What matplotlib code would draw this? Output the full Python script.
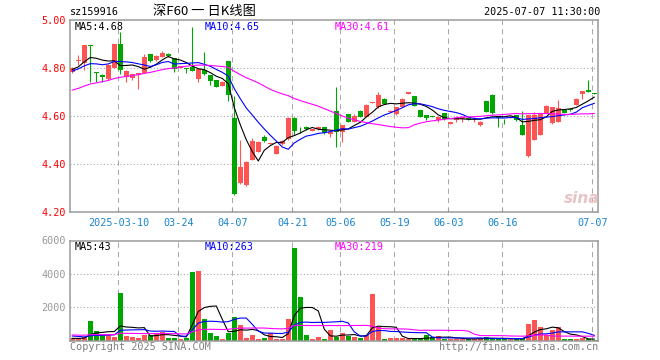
import matplotlib
matplotlib.use('Agg')
import matplotlib.pyplot as plt
import numpy as np
import pandas as pd

W, H, DPI = 660, 360, 100

# ---- data ----
opens = [4.785, 4.828, 4.822, 4.896, 4.783, 4.771, 4.754, 4.800, 4.900, 4.764,
         4.757, 4.771, 4.780, 4.858, 4.833, 4.847, 4.858, 4.840, 4.800, 4.799,
         4.805, 4.753, 4.792, 4.771, 4.750, 4.726, 4.829, 4.593, 4.322, 4.312,
         4.417, 4.450, 4.511, 4.486, 4.442, 4.483, 4.503, 4.593, 4.542, 4.556,
         4.538, 4.544, 4.553, 4.525, 4.622, 4.535, 4.608, 4.576, 4.622, 4.597,
         4.656, 4.636, 4.671, 4.619, 4.607, 4.639, 4.692, 4.683, 4.625, 4.604,
         4.598, 4.583, 4.611, 4.567, 4.585, 4.588, 4.593, 4.587, 4.563, 4.662,
         4.688, 4.600, 4.584, 4.592, 4.604, 4.562, 4.433, 4.500, 4.521, 4.614,
         4.569, 4.576, 4.625, 4.626, 4.646, 4.692, 4.708, 4.693]
highs = [4.805, 4.854, 4.896, 4.896, 4.783, 4.775, 4.812, 4.900, 4.950, 4.790,
         4.776, 4.778, 4.858, 4.860, 4.853, 4.871, 4.861, 4.842, 4.810, 4.800,
         4.972, 4.798, 4.867, 4.772, 4.751, 4.745, 4.831, 4.683, 4.500, 4.412,
         4.507, 4.495, 4.521, 4.489, 4.478, 4.499, 4.594, 4.594, 4.553, 4.558,
         4.546, 4.558, 4.554, 4.535, 4.722, 4.564, 4.610, 4.607, 4.624, 4.648,
         4.660, 4.701, 4.673, 4.623, 4.638, 4.673, 4.701, 4.685, 4.627, 4.606,
         4.599, 4.599, 4.613, 4.576, 4.600, 4.596, 4.595, 4.597, 4.578, 4.664,
         4.690, 4.602, 4.586, 4.599, 4.606, 4.622, 4.606, 4.618, 4.613, 4.644,
         4.638, 4.667, 4.627, 4.628, 4.673, 4.706, 4.750, 4.694]
lows = [4.780, 4.812, 4.792, 4.743, 4.743, 4.740, 4.750, 4.798, 4.775, 4.740,
        4.752, 4.713, 4.778, 4.826, 4.830, 4.845, 4.845, 4.785, 4.798, 4.778,
        4.786, 4.740, 4.772, 4.728, 4.720, 4.724, 4.664, 4.270, 4.318, 4.308,
        4.415, 4.448, 4.493, 4.484, 4.440, 4.481, 4.500, 4.521, 4.528, 4.542,
        4.536, 4.542, 4.526, 4.514, 4.472, 4.493, 4.574, 4.574, 4.595, 4.595,
        4.654, 4.634, 4.648, 4.617, 4.605, 4.637, 4.690, 4.640, 4.595, 4.583,
        4.595, 4.576, 4.584, 4.565, 4.577, 4.574, 4.584, 4.574, 4.558, 4.616,
        4.608, 4.556, 4.567, 4.590, 4.581, 4.519, 4.431, 4.498, 4.519, 4.612,
        4.567, 4.574, 4.612, 4.622, 4.644, 4.671, 4.699, 4.690]
closes = [4.801, 4.832, 4.896, 4.891, 4.782, 4.764, 4.812, 4.900, 4.790, 4.787,
          4.774, 4.778, 4.847, 4.829, 4.851, 4.864, 4.850, 4.794, 4.808, 4.798,
          4.789, 4.796, 4.774, 4.747, 4.722, 4.743, 4.688, 4.275, 4.389, 4.410,
          4.496, 4.493, 4.497, 4.487, 4.476, 4.497, 4.593, 4.539, 4.541, 4.544,
          4.544, 4.556, 4.528, 4.533, 4.532, 4.562, 4.576, 4.600, 4.597, 4.646,
          4.658, 4.688, 4.650, 4.621, 4.636, 4.671, 4.699, 4.642, 4.597, 4.590,
          4.597, 4.597, 4.586, 4.574, 4.590, 4.594, 4.586, 4.588, 4.576, 4.618,
          4.614, 4.593, 4.583, 4.597, 4.583, 4.521, 4.604, 4.604, 4.611, 4.642,
          4.636, 4.632, 4.614, 4.625, 4.671, 4.704, 4.701, 4.692]
volumes = [160, 140, 200, 1200, 600, 340, 360, 240, 2880, 280,
           240, 180, 340, 340, 440, 500, 180, 140, 120, 180,
           4120, 4200, 1300, 480, 300, 120, 480, 1440, 940, 180,
           340, 120, 180, 440, 100, 120, 1280, 5580, 2640, 340,
           100, 240, 120, 640, 240, 440, 280, 240, 180, 340,
           2800, 800, 100, 140, 180, 140, 100, 100, 100, 340,
           240, 280, 100, 120, 100, 120, 100, 100, 160, 200,
           160, 100, 100, 100, 100, 140, 1000, 1240, 840, 340,
           640, 800, 100, 100, 100, 140, 100, 40]
# sessions before the visible window (estimated from where the MA lines start)
pre_closes = [4.62, 4.61, 4.63, 4.64, 4.62, 4.65, 4.66, 4.64, 4.67, 4.68,
              4.66, 4.69, 4.70, 4.68, 4.70, 4.71, 4.72, 4.69, 4.70, 4.70,
              4.74, 4.77, 4.80, 4.79, 4.80, 4.78, 4.79, 4.80, 4.80]
pre_volumes = [300, 420, 250, 380, 520, 310, 280, 460, 350, 290,
               410, 330, 600, 280, 340, 390, 300, 450, 360, 380,
               380, 520, 460, 390, 350, 150, 120, 140, 130]

tick_idx = [8, 18, 27, 37, 45, 54, 63, 72, 87]
tick_labels = ['2025-03-10', '03-24', '04-07', '04-21', '05-06', '05-19',
               '06-03', '06-16', '07-07']
price_ticks = [4.20, 4.40, 4.60, 4.80, 5.00]
vol_ticks = [2000, 4000, 6000]
price_legend = ['MA5:4.68', 'MA10:4.65', 'MA30:4.61']
vol_legend = ['MA5:43', 'MA10:263', 'MA30:219']
title_code = 'sz159916'
title_name = '深F60 一 日K线图'
title_time = '2025-07-07 11:30:00'

RED = '#ff5454'
GREEN = '#00a600'
MA_COLORS = ['#000000', '#0000ff', '#ff00ff']
GRID = '#aaaaaa'
BORDER = '#9a9a9a'
MONO = 'DejaVu Sans Mono'

n = len(closes)
x = np.arange(n)
o = np.array(opens); c = np.array(closes)
hi = np.array(highs); lo = np.array(lows)
vol = np.array(volumes, dtype=float)
up = c >= o
colors = [RED if u else GREEN for u in up]

full_c = pd.Series(pre_closes + closes)
full_v = pd.Series(pre_volumes + volumes, dtype=float)
npre = len(pre_closes)
ma_c = [full_c.rolling(k).mean().values[npre:] for k in (5, 10, 30)]
ma_v = [full_v.rolling(k).mean().values[npre:] for k in (5, 10, 30)]

fig = plt.figure(figsize=(W / DPI, H / DPI), dpi=DPI)
fig.patch.set_facecolor('white')

def fpx(px, py):
    return px / W, 1 - py / H

L, R = 70, 598
ax = fig.add_axes([L / W, 1 - 212 / H, (R - L) / W, 192 / H])
axv = fig.add_axes([L / W, 1 - 340.7 / H, (R - L) / W, 100.2 / H])
XL = (-0.383, 87.62)

for a in (ax, axv):
    a.set_xlim(*XL)
    for s in a.spines.values():
        s.set_color(BORDER)
        s.set_linewidth(1.1)
    for t in tick_idx:
        a.axvline(t - 0.3, color=GRID, lw=0.75, linestyle=(0, (5, 4)), zorder=0)

# ---- price panel ----
ax.set_ylim(4.20, 5.00)
for p in price_ticks[1:-1]:
    ax.axhline(p, color=GRID, lw=0.8, linestyle=(0, (1, 2)), zorder=0)
ax.vlines(x, lo, hi, colors=colors, lw=0.8, zorder=2)
body = np.maximum(np.abs(c - o), 0.0035)
bottom = np.where(np.abs(c - o) < 0.0035, (c + o) / 2 - 0.00175, np.minimum(o, c))
ax.bar(x, body, bottom=bottom, width=0.76, color=colors, linewidth=0, zorder=3)
for m, col in zip(ma_c, MA_COLORS):
    ax.plot(x, m, color=col, lw=0.8, zorder=4)

ax.set_yticks(price_ticks)
ax.set_yticklabels(['%.2f' % p for p in price_ticks], color='#ff0000',
                   fontsize=7.3, family=MONO)
ax.tick_params(axis='y', length=0, pad=3)
ax.set_xticks([t - 0.3 for t in tick_idx])
ax.set_xticklabels(tick_labels, color='#1a86d0', fontsize=7.3, family=MONO)
ax.tick_params(axis='x', direction='in', length=3, color=BORDER, pad=4)

# ---- volume panel ----
axv.set_ylim(0, 6000)
for v in vol_ticks[:-1]:
    axv.axhline(v, color=GRID, lw=0.8, linestyle=(0, (1, 2)), zorder=0)
axv.bar(x, vol, width=0.8, color=colors, linewidth=0, zorder=2)
for m, col in zip(ma_v, MA_COLORS):
    axv.plot(x, m, color=col, lw=0.8, zorder=4)
axv.set_yticks(vol_ticks)
axv.set_yticklabels([str(v) for v in vol_ticks], color='#999999',
                    fontsize=7.3, family=MONO)
axv.tick_params(axis='y', length=0, pad=3)
axv.set_xticks([])

# ---- texts ----
for txt, xp, col in zip(price_legend, (75, 205, 335), MA_COLORS):
    fig.text(*fpx(xp, 26.5), txt, color=col, fontsize=7.3, family=MONO,
             ha='left', va='center')
for txt, xp, col in zip(vol_legend, (75, 205, 335), MA_COLORS):
    fig.text(*fpx(xp, 246.5), txt, color=col, fontsize=7.3, family=MONO,
             ha='left', va='center')

fig.text(*fpx(70, 12), title_code, color='#000000', fontsize=7.3, family=MONO,
         ha='left', va='center')
fig.text(*fpx(204, 11.5), title_name, color='#000000', fontsize=9.5,
         family=['Noto Sans CJK SC', 'DejaVu Sans'], ha='center', va='center')
fig.text(*fpx(600, 12), title_time, color='#000000', fontsize=7.3, family=MONO,
         ha='right', va='center')
fig.text(*fpx(70, 346.5), 'Copyright 2025 SINA.COM', color='#808080',
         fontsize=7.3, family=MONO, ha='left', va='center')
fig.text(*fpx(598, 346.5), 'http://finance.sina.com.cn', color='#808080',
         fontsize=7.3, family=MONO, ha='right', va='center')
fig.text(*fpx(582, 198), 'sina', color='#e9c4c4', fontsize=11, style='italic',
         weight='bold', family='DejaVu Sans', ha='center', va='center')

fig.savefig('out.png', dpi=DPI, facecolor='white')
